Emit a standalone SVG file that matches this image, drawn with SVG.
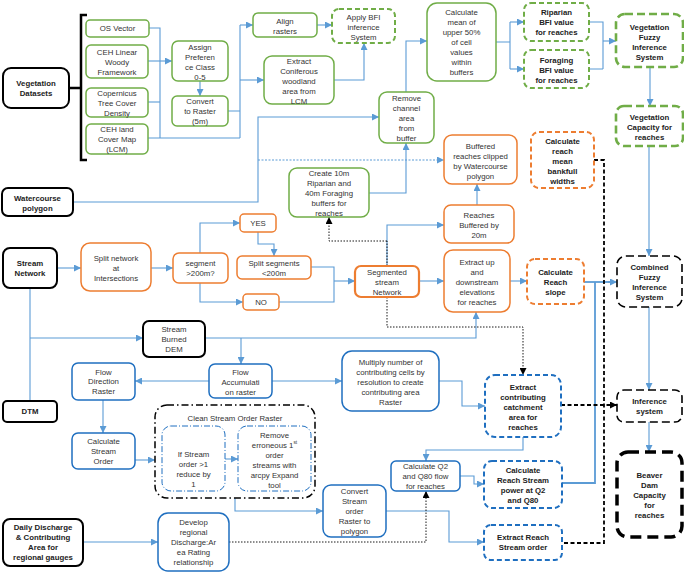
<svg xmlns="http://www.w3.org/2000/svg" width="684" height="573" viewBox="0 0 684 573">
<style>
text{font-family:"Liberation Sans",Arial,sans-serif;font-size:7.8px;fill:#333;text-anchor:middle;dominant-baseline:central}
.b{font-weight:bold;fill:#222}
.g{fill:#fff;stroke:#70AD47;stroke-width:1.5}
.gd{fill:#fff;stroke:#70AD47;stroke-width:2;stroke-dasharray:5 3}
.gD{fill:#fff;stroke:#70AD47;stroke-width:2.6;stroke-dasharray:8 4}
.o{fill:#fff;stroke:#ED7D31;stroke-width:1.5}
.oT{fill:#fff;stroke:#ED7D31;stroke-width:2.2}
.od{fill:#fff;stroke:#ED7D31;stroke-width:2;stroke-dasharray:5 3}
.k{fill:#fff;stroke:#000;stroke-width:2}
.kd{fill:#fff;stroke:#000;stroke-width:1.6;stroke-dasharray:8 4}
.kD{fill:#fff;stroke:#000;stroke-width:3.5;stroke-dasharray:11 6}
.u{fill:#fff;stroke:#1F6FC0;stroke-width:1.5}
.ud{fill:#fff;stroke:#1F6FC0;stroke-width:2;stroke-dasharray:5 3}
.udd{fill:none;stroke:#1F6FC0;stroke-width:1;stroke-dasharray:6 2 1 2}
.kdd{fill:none;stroke:#000;stroke-width:1.5;stroke-dasharray:7 3 1.5 3}
.c{fill:none;stroke:#5B9BD5;stroke-width:1.1}
.cT{fill:none;stroke:#5B9BD5;stroke-width:1.8}
.ca{fill:none;stroke:#5B9BD5;stroke-width:1.1;marker-end:url(#ab)}
.cda{fill:none;stroke:#5B9BD5;stroke-width:1;stroke-dasharray:2 1.5;marker-end:url(#ab)}
.kdot{fill:none;stroke:#000;stroke-width:0.9;stroke-dasharray:1.5 1.5}
.kdota{fill:none;stroke:#000;stroke-width:0.9;stroke-dasharray:1.5 1.5;marker-end:url(#ak)}
.kdash{fill:none;stroke:#000;stroke-width:1.8;stroke-dasharray:4 2.5}
.kdasha{fill:none;stroke:#000;stroke-width:1.8;stroke-dasharray:4 2.5;marker-end:url(#ak)}
</style>
<defs>
<marker id="ab" viewBox="0 0 10 10" refX="10" refY="5" markerUnits="userSpaceOnUse" markerWidth="7" markerHeight="7" orient="auto"><path d="M0,0 L10,5 L0,10 Z" fill="#5B9BD5"/></marker>
<marker id="ak" viewBox="0 0 10 10" refX="10" refY="5" markerUnits="userSpaceOnUse" markerWidth="7" markerHeight="7" orient="auto"><path d="M0,0 L10,5 L0,10 Z" fill="#000"/></marker>
</defs>
<rect width="684" height="573" fill="#fff"/>

<g id="connectors">
<path class="c" d="M149,28 H160 V138"/>
<path class="ca" d="M148,61 H172"/>
<path class="c" d="M148,102 H160"/>
<path class="c" d="M148,138 H240"/>
<path class="ca" d="M200,81 V96"/>
<path class="c" d="M228,111 H240 M240,138 V25"/>
<path class="ca" d="M240,25 H253"/>
<path class="ca" d="M240,80 H264"/>
<path class="ca" d="M317,25 H332"/>
<path class="ca" d="M334,80 H364 V43"/>
<path class="ca" d="M406,92 V41 H427"/>
<path class="c" d="M496,42 H510 M510,22 V69"/>
<path class="ca" d="M510,22 H524"/>
<path class="ca" d="M510,69 H524"/>
<path class="c" d="M589,22 H603 V69 M589,69 H603"/>
<path class="ca" d="M603,41 H616"/>
<path class="ca" d="M650,67 V106"/>
<path class="ca" d="M649,146 V256"/>
<path class="ca" d="M649,307 V390"/>
<path class="ca" d="M649,422 V452"/>
<path class="ca" d="M73,202 H258 V117 H379"/>
<path class="cda" d="M258,160 H444"/>
<path class="ca" d="M369,193 H406 V143"/>
<path class="ca" d="M57,268 H81"/>
<path class="ca" d="M151,268 H173"/>
<path class="ca" d="M200,253 V223 H240"/>
<path class="ca" d="M200,283 V302 H243"/>
<path class="ca" d="M258,232 V244 H274 V256"/>
<path class="c" d="M311,267 H334 V302 H279"/>
<path class="ca" d="M334,281 H355"/>
<path class="ca" d="M387,266 V225 H444"/>
<path class="ca" d="M419,281 H444"/>
<path class="ca" d="M477,205 V184"/>
<path class="ca" d="M510,281 H527"/>
<path class="cT" d="M562,483 H595 V282"/>
<path class="cT" d="M584,282 H610"/>
<path class="ca" d="M608,282 H617"/>
<path class="c" d="M30,288 V401"/>
<path class="ca" d="M30,338 H143"/>
<path class="ca" d="M205,338 H476 V312"/>
<path class="ca" d="M241,338 V364"/>
<path class="ca" d="M209,381 H135"/>
<path class="ca" d="M272,381 H342"/>
<path class="ca" d="M103,400 V433"/>
<path class="ca" d="M135,460 H155"/>
<path class="ca" d="M225,459 H238"/>
<path class="ca" d="M235,498 V511 H323"/>
<path class="ca" d="M386,511 H449 V542 H484"/>
<path class="ca" d="M439,381 H462 V406 H485"/>
<path class="ca" d="M523,437 V450 H426 V461"/>
<path class="ca" d="M460,476 H474 V484 H484"/>
<path class="ca" d="M83,542 H158"/>
<path class="kdota" d="M387,241 H329 V217"/>
<path class="kdot" d="M387,266 V241"/>
<path class="kdota" d="M387,297 V327 H523 V375"/>
<path class="kdota" d="M229,542 H426 V491"/>
<path class="kdash" d="M594,160 H604 V543 H562"/>
<path class="kdasha" d="M561,405 H617"/>
<path d="M87,15 H81 V160 H87 M69,88 H81" fill="none" stroke="#000" stroke-width="2.5"/>
</g>

<g id="vegetation-datasets"><rect class="k" x="3" y="68" width="66" height="40" rx="8"/><text class="b"><tspan x="36" y="83.3">Vegetation</tspan><tspan x="36" y="93.3">Datasets</tspan></text></g>
<g id="os-vector"><rect class="g" x="86" y="20" width="63" height="17" rx="4"/><text x="117.5" y="28.5">OS Vector</text></g>
<g id="ceh-linear"><rect class="g" x="86" y="45" width="62" height="33" rx="5"/><text><tspan x="117" y="51.7">CEH Linear</tspan><tspan x="117" y="61.7">Woody</tspan><tspan x="117" y="71.7">Framework</tspan></text></g>
<g id="copernicus"><rect class="g" x="86" y="88" width="62" height="29" rx="5"/><text><tspan x="117" y="92.7">Copernicus</tspan><tspan x="117" y="102.7">Tree Cover</tspan><tspan x="117" y="112.7">Density</tspan></text></g>
<g id="ceh-lcm"><rect class="g" x="86" y="124" width="62" height="30" rx="5"/><text><tspan x="117" y="129">CEH land</tspan><tspan x="117" y="139">Cover Map</tspan><tspan x="117" y="149">(LCM)</tspan></text></g>
<g id="assign"><rect class="g" x="172" y="41" width="56" height="40" rx="6"/><text><tspan x="200" y="46.7">Assign</tspan><tspan x="200" y="56.7">Preferen</tspan><tspan x="200" y="66.7">ce Class</tspan><tspan x="200" y="76.7">0-5</tspan></text></g>
<g id="convert-raster"><rect class="g" x="172" y="96" width="56" height="30" rx="5"/><text><tspan x="200" y="101">Convert</tspan><tspan x="200" y="111">to Raster</tspan><tspan x="200" y="121">(5m)</tspan></text></g>
<g id="align"><rect class="g" x="253" y="13" width="64" height="24" rx="5"/><text><tspan x="285" y="20.7">Align</tspan><tspan x="285" y="30.7">rasters</tspan></text></g>
<g id="apply-bfi"><rect class="gd" x="332" y="9" width="63" height="34" rx="7"/><text><tspan x="363.5" y="16.7">Apply BFI</tspan><tspan x="363.5" y="26.7">inference</tspan><tspan x="363.5" y="36.7">System</tspan></text></g>
<g id="extract-coniferous"><rect class="g" x="264" y="56" width="70" height="48" rx="8"/><text><tspan x="299" y="61">Extract</tspan><tspan x="299" y="71">Coniferous</tspan><tspan x="299" y="81">woodland</tspan><tspan x="299" y="91">area from</tspan><tspan x="299" y="101">LCM</tspan></text></g>
<g id="calc-mean"><rect class="g" x="427" y="3" width="69" height="78" rx="10"/><text><tspan x="461.5" y="12.3">Calculate</tspan><tspan x="461.5" y="22.3">mean of</tspan><tspan x="461.5" y="32.3">upper 50%</tspan><tspan x="461.5" y="42.3">of cell</tspan><tspan x="461.5" y="52.3">values</tspan><tspan x="461.5" y="62.3">within</tspan><tspan x="461.5" y="72">buffers</tspan></text></g>
<g id="remove-channel"><rect class="g" x="379" y="92" width="55" height="51" rx="8"/><text><tspan x="406.5" y="98.3">Remove</tspan><tspan x="406.5" y="108.3">channel</tspan><tspan x="406.5" y="118.3">area</tspan><tspan x="406.5" y="128.3">from</tspan><tspan x="406.5" y="138">buffer</tspan></text></g>
<g id="create-buffers"><rect class="g" x="289" y="168" width="80" height="49" rx="8"/><text><tspan x="329" y="173.3">Create 10m</tspan><tspan x="329" y="183.3">Riparian and</tspan><tspan x="329" y="193.3">40m Foraging</tspan><tspan x="329" y="202.7">buffers for</tspan><tspan x="329" y="212.7">reaches</tspan></text></g>
<g id="riparian-bfi"><rect class="gd" x="524" y="3" width="65" height="38" rx="7"/><text class="b"><tspan x="556.5" y="12.3">Riparian</tspan><tspan x="556.5" y="22.3">BFI value</tspan><tspan x="556.5" y="32.3">for reaches</tspan></text></g>
<g id="foraging-bfi"><rect class="gd" x="524" y="50" width="65" height="38" rx="7"/><text class="b"><tspan x="556.5" y="60">Foraging</tspan><tspan x="556.5" y="70">BFI value</tspan><tspan x="556.5" y="80">for reaches</tspan></text></g>
<g id="veg-fuzzy"><rect class="gD" x="616" y="14" width="67" height="53" rx="9"/><text class="b"><tspan x="649.5" y="26.7">Vegetation</tspan><tspan x="649.5" y="36.7">Fuzzy</tspan><tspan x="649.5" y="46.7">Inference</tspan><tspan x="649.5" y="56.7">System</tspan></text></g>
<g id="veg-capacity"><rect class="gD" x="616" y="106" width="67" height="40" rx="8"/><text class="b"><tspan x="649.5" y="116.7">Vegetation</tspan><tspan x="649.5" y="126.7">Capacity for</tspan><tspan x="649.5" y="136.7">reaches</tspan></text></g>

<g id="watercourse"><rect class="k" x="2" y="188" width="71" height="28" rx="6"/><text class="b"><tspan x="37.5" y="197.7">Watercourse</tspan><tspan x="37.5" y="207.7">polygon</tspan></text></g>
<g id="buffered-clipped"><rect class="o" x="444" y="135" width="73" height="49" rx="8"/><text><tspan x="480.5" y="145.7">Buffered</tspan><tspan x="480.5" y="155.7">reaches clipped</tspan><tspan x="480.5" y="165.7">by Watercourse</tspan><tspan x="480.5" y="175.7">polygon</tspan></text></g>
<g id="bankfull"><rect class="od" x="531" y="132" width="63" height="56" rx="8"/><text class="b"><tspan x="562.5" y="140.7">Calculate</tspan><tspan x="562.5" y="150.7">reach</tspan><tspan x="562.5" y="160.7">mean</tspan><tspan x="562.5" y="170.7">bankfull</tspan><tspan x="562.5" y="180.7">widths</tspan></text></g>
<g id="reaches-buffered"><rect class="o" x="444" y="205" width="70" height="38" rx="7"/><text><tspan x="479" y="215">Reaches</tspan><tspan x="479" y="225">Buffered by</tspan><tspan x="479" y="235">20m</tspan></text></g>
<g id="extract-elev"><rect class="o" x="444" y="250" width="66" height="62" rx="9"/><text><tspan x="477" y="261.7">Extract up</tspan><tspan x="477" y="271.7">and</tspan><tspan x="477" y="281.7">downstream</tspan><tspan x="477" y="291.7">elevations</tspan><tspan x="477" y="301.7">for reaches</tspan></text></g>
<g id="reach-slope"><rect class="od" x="527" y="259" width="57" height="45" rx="8"/><text class="b"><tspan x="555.5" y="271.7">Calculate</tspan><tspan x="555.5" y="281.7">Reach</tspan><tspan x="555.5" y="291.7">slope</tspan></text></g>
<g id="segmented"><rect class="oT" x="355" y="266" width="64" height="31" rx="6"/><text><tspan x="387" y="271.7">Segmented</tspan><tspan x="387" y="281.7">stream</tspan><tspan x="387" y="291.7">Network</tspan></text></g>
<g id="split-segments"><rect class="o" x="237" y="256" width="74" height="23" rx="5"/><text><tspan x="274" y="262.7">Split segments</tspan><tspan x="274" y="272.7">&lt;200m</tspan></text></g>
<g id="yes"><rect class="o" x="240" y="214" width="36" height="18" rx="4"/><text x="258" y="223">YES</text></g>
<g id="no"><rect class="o" x="243" y="294" width="36" height="16" rx="4"/><text x="261" y="302">NO</text></g>
<g id="segment-q"><rect class="o" x="173" y="253" width="55" height="30" rx="6"/><text><tspan x="200.5" y="263.3">segment</tspan><tspan x="200.5" y="273.3">&gt;200m?</tspan></text></g>
<g id="split-network"><rect class="o" x="81" y="243" width="70" height="48" rx="9"/><text><tspan x="116" y="258">Split network</tspan><tspan x="116" y="268">at</tspan><tspan x="116" y="278">Intersections</tspan></text></g>
<g id="stream-network"><rect class="k" x="3" y="248" width="54" height="40" rx="7"/><text class="b"><tspan x="30" y="263.3">Stream</tspan><tspan x="30" y="273.3">Network</tspan></text></g>

<g id="stream-burned-dem"><rect class="k" x="143" y="321" width="62" height="36" rx="6"/><text><tspan x="174" y="329">Stream</tspan><tspan x="174" y="339">Burned</tspan><tspan x="174" y="349">DEM</tspan></text></g>
<g id="dtm"><rect class="k" x="3" y="401" width="54" height="21" rx="4"/><text class="b" x="30" y="411.5">DTM</text></g>
<g id="flow-direction"><rect class="u" x="72" y="363" width="63" height="37" rx="6"/><text><tspan x="103.5" y="371.7">Flow</tspan><tspan x="103.5" y="381.3">Direction</tspan><tspan x="103.5" y="391.3">Raster</tspan></text></g>
<g id="flow-accumulation"><rect class="u" x="209" y="364" width="63" height="34" rx="6"/><text><tspan x="240.5" y="371.7">Flow</tspan><tspan x="240.5" y="381.7">Accumulati</tspan><tspan x="240.5" y="391.7">on raster</tspan></text></g>
<g id="calc-stream-order"><rect class="u" x="72" y="433" width="63" height="36" rx="6"/><text><tspan x="103.5" y="441.3">Calculate</tspan><tspan x="103.5" y="451.3">Stream</tspan><tspan x="103.5" y="461.3">Order</tspan></text></g>
<g id="multiply"><rect class="u" x="342" y="351" width="97" height="60" rx="10"/><text><tspan x="390.5" y="361.7">Multiply number of</tspan><tspan x="390.5" y="371.7">contributing cells by</tspan><tspan x="390.5" y="381.7">resolution to create</tspan><tspan x="390.5" y="391.7">contributing area</tspan><tspan x="390.5" y="401.7">Raster</tspan></text></g>
<g id="extract-catchment"><rect class="ud" x="485" y="375" width="76" height="62" rx="10"/><text class="b"><tspan x="523" y="386.7">Extract</tspan><tspan x="523" y="396.7">contributing</tspan><tspan x="523" y="406.7">catchment</tspan><tspan x="523" y="416.7">area for</tspan><tspan x="523" y="426.7">reaches</tspan></text></g>
<g id="clean-stream-order"><rect class="kdd" x="155" y="405" width="160" height="93" rx="12"/><text x="235" y="418">Clean Stream Order Raster</text></g>
<g id="reduce-order"><rect class="udd" x="162" y="426" width="63" height="65" rx="9"/><text><tspan x="193.5" y="454">If Stream</tspan><tspan x="193.5" y="464">order &gt;1</tspan><tspan x="193.5" y="474">reduce by</tspan><tspan x="193.5" y="484">1</tspan></text></g>
<g id="remove-erroneous"><rect class="udd" x="238" y="426" width="73" height="65" rx="9"/><text><tspan x="274.5" y="434.7">Remove</tspan><tspan x="274.5" y="444.7">erroneous 1<tspan font-size="4.8" dy="-2.5">st</tspan></tspan><tspan x="274.5" y="454.7">order</tspan><tspan x="274.5" y="464.7">streams with</tspan><tspan x="274.5" y="474.7">arcpy Expand</tspan><tspan x="274.5" y="484.7">tool</tspan></text></g>
<g id="convert-polygon"><rect class="u" x="323" y="485" width="63" height="52" rx="8"/><text><tspan x="354.5" y="491.3">Convert</tspan><tspan x="354.5" y="501.3">Stream</tspan><tspan x="354.5" y="511.3">order</tspan><tspan x="354.5" y="521.3">Raster to</tspan><tspan x="354.5" y="531.3">polygon</tspan></text></g>
<g id="calc-q2"><rect class="u" x="391" y="461" width="69" height="30" rx="5"/><text><tspan x="425.5" y="466.3">Calculate Q2</tspan><tspan x="425.5" y="476.3">and Q80 flow</tspan><tspan x="425.5" y="486.3">for reaches</tspan></text></g>
<g id="stream-power"><rect class="ud" x="484" y="461" width="78" height="47" rx="8"/><text class="b"><tspan x="523" y="469.7">Calculate</tspan><tspan x="523" y="479.7">Reach Stream</tspan><tspan x="523" y="489.7">power at Q2</tspan><tspan x="523" y="499.7">and Q80</tspan></text></g>
<g id="extract-stream-order"><rect class="ud" x="484" y="525" width="78" height="35" rx="7"/><text class="b"><tspan x="523" y="537.3">Extract Reach</tspan><tspan x="523" y="547.3">Stream order</tspan></text></g>
<g id="daily-discharge"><rect class="k" x="3" y="519" width="80" height="47" rx="7"/><text class="b"><tspan x="43" y="527.3">Daily Discharge</tspan><tspan x="43" y="537.3">&amp; Contributing</tspan><tspan x="43" y="547.3">Area for</tspan><tspan x="43" y="557.3">regional gauges</tspan></text></g>
<g id="develop-rating"><rect class="u" x="158" y="513" width="71" height="58" rx="10"/><text><tspan x="193.5" y="522.3">Develop</tspan><tspan x="193.5" y="532.3">regional</tspan><tspan x="193.5" y="542.3">Discharge:Ar</tspan><tspan x="193.5" y="552.3">ea Rating</tspan><tspan x="193.5" y="562.3">relationship</tspan></text></g>

<g id="combined-fuzzy"><rect class="kd" x="617" y="256" width="65" height="51" rx="9"/><text class="b"><tspan x="649.5" y="267.3">Combined</tspan><tspan x="649.5" y="277.3">Fuzzy</tspan><tspan x="649.5" y="287.3">Inference</tspan><tspan x="649.5" y="297.3">System</tspan></text></g>
<g id="inference-system"><rect class="kd" x="617" y="390" width="65" height="32" rx="7"/><text class="b"><tspan x="649.5" y="401.3">Inference</tspan><tspan x="649.5" y="411.3">system</tspan></text></g>
<g id="beaver-dam"><rect class="kD" x="617" y="452" width="65" height="85" rx="11"/><text class="b"><tspan x="649.5" y="474.7">Beaver</tspan><tspan x="649.5" y="484.7">Dam</tspan><tspan x="649.5" y="494.7">Capacity</tspan><tspan x="649.5" y="504.7">for</tspan><tspan x="649.5" y="514.7">reaches</tspan></text></g>
</svg>
